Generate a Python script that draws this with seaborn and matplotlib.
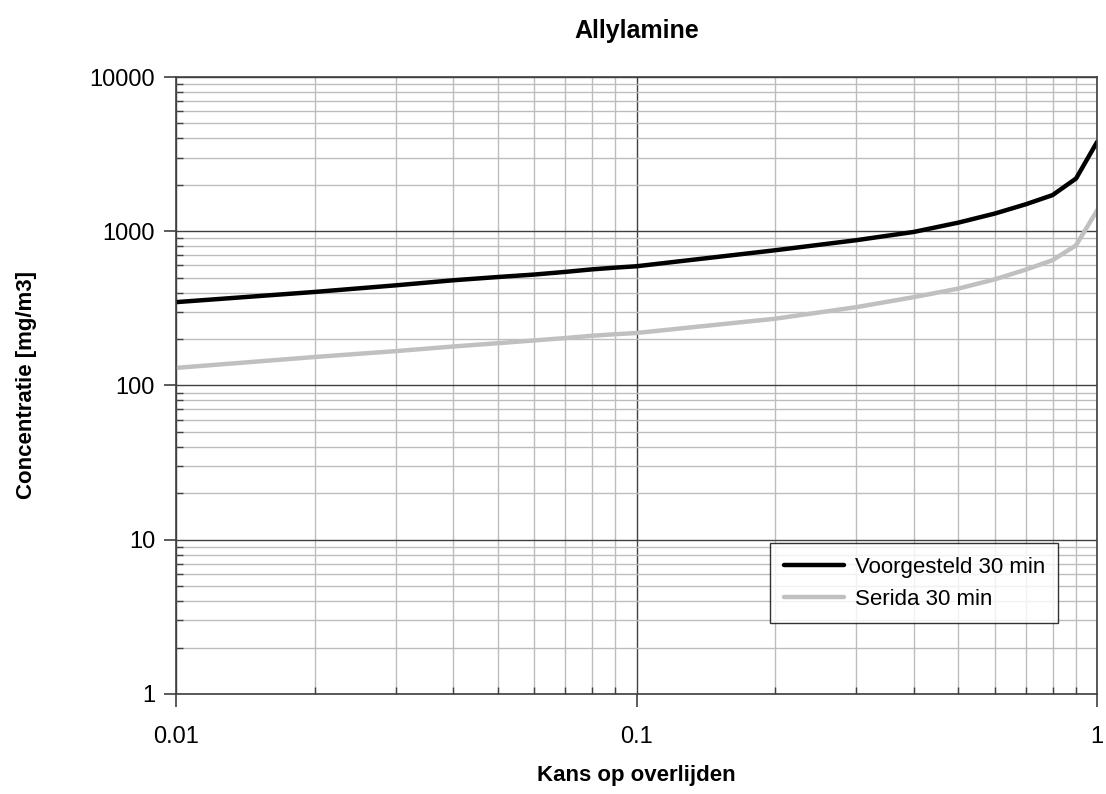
import matplotlib
matplotlib.use("Agg")
import matplotlib.pyplot as plt
import matplotlib.ticker as mticker
import seaborn as sns
import pandas as pd

# Kans op overlijden (x) and concentrations
kans = [0.01, 0.02, 0.03, 0.04, 0.05, 0.06, 0.07, 0.08, 0.09,
        0.1, 0.2, 0.3, 0.4, 0.5, 0.6, 0.7, 0.8, 0.9, 1.0]
voorgesteld = [347, 404, 446, 481, 505, 524, 545, 566, 581,
               593, 753, 875, 990, 1138, 1303, 1496, 1715, 2198, 3800]
serida = [130, 153, 167, 179, 188, 196, 203, 210, 215,
          219, 271, 322, 374, 425, 488, 564, 649, 811, 1368]

series_names = ["Voorgesteld 30 min", "Serida 30 min"]
series_colors = ["#000000", "#c0c0c0"]

df = pd.concat([
    pd.DataFrame({"kans": kans, "conc": voorgesteld, "reeks": series_names[0]}),
    pd.DataFrame({"kans": kans, "conc": serida, "reeks": series_names[1]}),
])

sns.set_style("white")
plt.rcParams['font.family'] = ['Liberation Sans', 'DejaVu Sans']
plt.rcParams['text.color'] = 'black'
plt.rcParams['axes.labelcolor'] = 'black'
plt.rcParams['xtick.color'] = 'black'
plt.rcParams['ytick.color'] = 'black'

fig = plt.figure(figsize=(11.06, 7.94), dpi=100)
ax = fig.add_axes([0.159, 0.126, 0.833, 0.777])

sns.lineplot(data=df, x="kans", y="conc", hue="reeks", hue_order=series_names,
             palette=series_colors, linewidth=3.2, ax=ax, sort=False)

ax.set_xscale("log")
ax.set_yscale("log")
ax.set_xlim(0.01, 1)
ax.set_ylim(1, 10000)

ax.xaxis.set_major_locator(mticker.FixedLocator([0.01, 0.1, 1]))
ax.xaxis.set_major_formatter(mticker.FixedFormatter(["0.01", "0.1", "1"]))
ax.xaxis.set_minor_locator(mticker.LogLocator(base=10, subs=range(2, 10)))
ax.xaxis.set_minor_formatter(mticker.NullFormatter())
ax.yaxis.set_major_locator(mticker.FixedLocator([1, 10, 100, 1000, 10000]))
ax.yaxis.set_major_formatter(mticker.FixedFormatter(["1", "10", "100", "1000", "10000"]))
ax.yaxis.set_minor_locator(mticker.LogLocator(base=10, subs=range(2, 10)))
ax.yaxis.set_minor_formatter(mticker.NullFormatter())

ax.grid(which="minor", color="#bdbdbd", linewidth=1.0)
ax.grid(which="major", color="#404040", linewidth=1.0)
ax.set_axisbelow(True)

for s in ax.spines.values():
    s.set_color("#404040")
    s.set_linewidth(1.2)

ax.tick_params(which="both", bottom=True, left=True, top=False, right=False)
ax.tick_params(which="major", direction="out", length=9, width=1.2, color="#404040",
               labelsize=17, labelcolor="black", pad=6)
ax.tick_params(axis="x", which="major", pad=14)
ax.tick_params(which="minor", direction="in", length=5, width=1.0, color="#404040")

ax.set_xlabel("Kans op overlijden", fontsize=16, fontweight="bold", labelpad=12,
              color="black")
ax.set_ylabel("Concentratie [mg/m3]", fontsize=16, fontweight="bold", labelpad=38,
              color="black")
ax.set_title("Allylamine", fontsize=18, fontweight="bold", pad=28, color="black")

leg = ax.legend(loc="lower right", bbox_to_anchor=(0.958, 0.115), borderaxespad=0,
                fontsize=16, frameon=True, fancybox=False, edgecolor="black",
                handlelength=2.7, borderpad=0.6, labelspacing=0.5, handletextpad=0.5)
leg.get_frame().set_linewidth(1.0)
leg.set_title(None)

fig.savefig("out.png", dpi=100)
